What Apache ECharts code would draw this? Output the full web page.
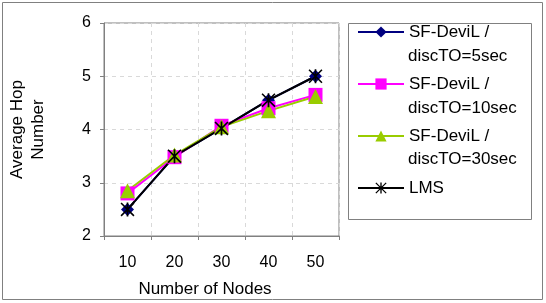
<!DOCTYPE html>
<html>
<head>
<meta charset="utf-8">
<script src="https://cdn.jsdelivr.net/npm/echarts@6/dist/echarts.min.js"></script>
<style>
    html, body { margin: 0; padding: 0; background: #fff; }
    #main { width: 546px; height: 303px; }
</style>
</head>
<body>
<div id="main"></div>
<script>
    // 数据
    var nodeCounts = ["10", "20", "30", "40", "50"];
    var devil5 = [2.5, 3.5, 4.02, 4.55, 5.0];
    var devil10 = [2.8, 3.48, 4.07, 4.4, 4.65];
    var devil30 = [2.85, 3.52, 4.05, 4.35, 4.62];
    var lms = [2.5, 3.5, 4.02, 4.55, 5.0];
    var seriesNames = ["SF-DeviL / discTO=5sec", "SF-DeviL / discTO=10sec", "SF-DeviL / discTO=30sec", "LMS"];
    var yTicks = [2, 3, 4, 5, 6];

    // 星号标记 (X + 竖线)
    var asterisk = "path://M4.4 0H5.6V10H4.4Z M0 0.8L0.8 0L10 9.2L9.2 10Z M9.2 0L10 0.8L0.8 10L0 9.2Z";

    var font = "Liberation Sans, Arial, sans-serif";
    var gray = "#808080";

    function lineSeries(name, data, color, symbol, size) {
        return {
            name: name,
            type: "line",
            data: data,
            symbol: symbol,
            symbolSize: size,
            color: color,
            lineStyle: {color: color, width: 2},
            itemStyle: {color: color},
            animation: false
        };
    }

    // 图例第二行
    function secondLine(text, y) {
        return {
            type: "text",
            left: 408,
            top: y - 10,
            style: {text: text, font: "17px " + font, fill: "#000"}
        };
    }

    var myChart = echarts.init(document.getElementById("main"));
    var option = {
        backgroundColor: "#fff",
        grid: {
            left: 104, top: 23, right: 207, bottom: 67,
            show: true, borderColor: gray, borderWidth: 1
        },
        xAxis: {
            type: "category",
            data: nodeCounts,
            boundaryGap: true,
            name: "Number of Nodes",
            nameLocation: "middle",
            nameGap: 45,
            nameTextStyle: {fontFamily: font, fontSize: 17, color: "#000", padding: [0, 33, 0, 0]},
            axisLine: {lineStyle: {color: gray, width: 1}},
            axisTick: {show: true, length: 4, inside: false, lineStyle: {color: gray}},
            axisLabel: {fontFamily: font, fontSize: 16, color: "#000", margin: 19},
            splitLine: {show: true, lineStyle: {color: "#d9d9d9", type: [4, 4]}}
        },
        yAxis: {
            type: "value",
            min: yTicks[0],
            max: yTicks[yTicks.length - 1],
            interval: 1,
            name: "Average Hop\nNumber",
            nameLocation: "middle",
            nameGap: 55,
            nameTextStyle: {fontFamily: font, fontSize: 17, color: "#000", lineHeight: 21, align: "center"},
            axisLine: {show: true, lineStyle: {color: gray, width: 1}},
            axisTick: {show: true, length: 4, lineStyle: {color: gray}},
            axisLabel: {fontFamily: font, fontSize: 16, color: "#000", margin: 13},
            splitLine: {show: true, lineStyle: {color: "#d9d9d9", type: [4, 4]}}
        },
        legend: {
            orient: "vertical",
            left: 357,
            top: 22,
            padding: 0,
            itemWidth: 46,
            itemHeight: 14,
            itemGap: 32,
            data: seriesNames,
            formatter: function (name) {
                return name.split(" discTO")[0];
            },
            textStyle: {fontFamily: font, fontSize: 17, color: "#000", lineHeight: 20}
        },
        graphic: [
            {
                type: "rect",
                shape: {x: 2.5, y: 2.5, width: 540, height: 297},
                style: {fill: null, stroke: gray, lineWidth: 1}
            },
            {
                type: "rect",
                shape: {x: 348.5, y: 23.5, width: 183, height: 196},
                style: {fill: null, stroke: gray, lineWidth: 1}
            },
            secondLine("discTO=5sec", 58),
            secondLine("discTO=10sec", 110),
            secondLine("discTO=30sec", 161)
        ],
        series: [
            lineSeries(seriesNames[0], devil5, "#000080", "diamond", 13),
            lineSeries(seriesNames[1], devil10, "#ff00ff", "rect", 14),
            lineSeries(seriesNames[2], devil30, "#99cc00", "triangle", 15),
            lineSeries(seriesNames[3], lms, "#000000", asterisk, 14)
        ]
    };
    myChart.setOption(option);
</script>
</body>
</html>
